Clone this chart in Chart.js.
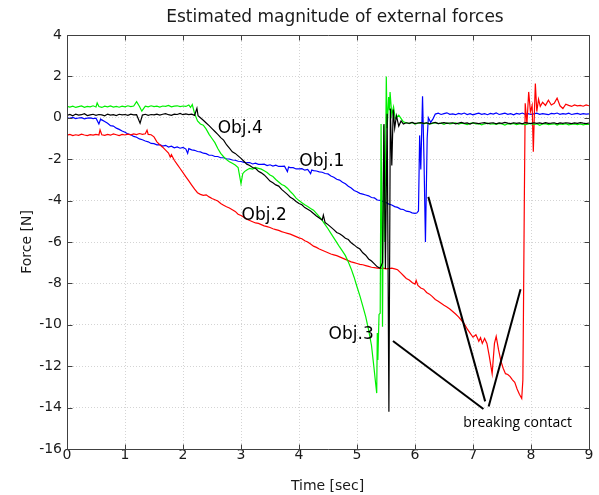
<!DOCTYPE html>
<html><head><meta charset="utf-8">
<script src="https://cdn.jsdelivr.net/npm/chart.js@4/dist/chart.umd.min.js"></script>
<style>html,body{margin:0;padding:0;background:#fff;}#wrap{width:599px;height:495px;}</style>
</head><body><div id="wrap"><canvas id="c" width="599" height="495"></canvas></div>
<script>
// ---- axis ticks ----
const xTicks = [0,1,2,3,4,5,6,7,8,9];
const yTicks = [4,2,0,-2,-4,-6,-8,-10,-12,-14,-16];

// ---- Obj.1 (blue) ----
const obj1T = [
0,0.05,0.1,0.15,0.2,0.25,0.3,0.35,0.4,0.45,
0.5,0.55,0.58,0.6,0.65,0.7,0.75,0.8,0.85,0.9,
0.95,1,1.05,1.1,1.15,1.2,1.25,1.3,1.35,1.4,
1.45,1.5,1.55,1.6,1.65,1.7,1.75,1.8,1.85,1.9,
1.95,2,2.05,2.08,2.1,2.15,2.2,2.25,2.3,2.35,
2.4,2.45,2.5,2.55,2.6,2.65,2.7,2.75,2.8,2.85,
2.9,2.95,3,3.05,3.1,3.15,3.2,3.25,3.3,3.35,
3.4,3.45,3.5,3.55,3.6,3.65,3.7,3.75,3.8,3.82,
3.85,3.9,3.95,4,4.05,4.1,4.15,4.2,4.22,4.25,
4.3,4.35,4.4,4.45,4.5,4.55,4.6,4.65,4.7,4.75,
4.8,4.85,4.9,4.95,5,5.05,5.1,5.15,5.2,5.25,
5.3,5.35,5.4,5.45,5.5,5.55,5.6,5.65,5.7,5.75,
5.8,5.85,5.9,5.95,6,6.03,6.06,6.08,6.1,6.13,
6.155,6.18,6.21,6.23,6.27,6.31,6.35,6.4,6.45,6.5,
6.55,6.6,6.65,6.7,6.75,6.8,6.85,6.9,6.95,7,
7.05,7.1,7.15,7.2,7.25,7.3,7.35,7.4,7.45,7.5,
7.55,7.6,7.65,7.7,7.75,7.8,7.85,7.9,7.95,8,
8.05,8.1,8.15,8.2,8.25,8.3,8.35,8.4,8.45,8.5,
8.55,8.6,8.65,8.7,8.75,8.8,8.85,8.9,8.95,9];
const obj1F = [
0.00,-0.03,0.02,-0.04,-0.01,0.01,-0.05,-0.02,0.00,-0.04,
-0.02,-0.30,-0.06,-0.10,-0.18,-0.26,-0.38,-0.40,-0.50,-0.56,
-0.64,-0.70,-0.78,-0.82,-0.90,-0.94,-1.02,-1.06,-1.12,-1.16,
-1.24,-1.25,-1.31,-1.30,-1.37,-1.33,-1.41,-1.37,-1.45,-1.41,
-1.47,-1.43,-1.51,-1.72,-1.49,-1.55,-1.57,-1.63,-1.65,-1.71,
-1.73,-1.81,-1.81,-1.87,-1.87,-1.93,-1.93,-1.98,-1.99,-2.04,
-2.05,-2.10,-2.11,-2.15,-2.17,-2.16,-2.23,-2.19,-2.25,-2.25,
-2.24,-2.31,-2.27,-2.33,-2.29,-2.35,-2.35,-2.34,-2.60,-2.38,
-2.41,-2.41,-2.47,-2.47,-2.46,-2.53,-2.49,-2.70,-2.52,-2.55,
-2.57,-2.61,-2.63,-2.69,-2.71,-2.81,-2.87,-2.97,-3.01,-3.11,
-3.19,-3.31,-3.39,-3.51,-3.57,-3.65,-3.69,-3.73,-3.77,-3.85,
-3.87,-3.97,-3.99,-4.05,-4.09,-4.17,-4.21,-4.29,-4.33,-4.41,
-4.43,-4.51,-4.53,-4.59,-4.62,-4.60,-4.50,-0.85,-2.50,1.04,
-2.00,-6.00,-1.00,0.00,-0.22,-0.05,0.18,0.22,0.16,0.20,
0.24,0.17,0.19,0.15,0.21,0.18,0.23,0.16,0.20,0.14,
0.19,0.22,0.17,0.20,0.15,0.21,0.18,0.24,0.16,0.19,
0.22,0.17,0.20,0.14,0.21,0.18,0.23,0.17,0.20,0.16,
0.19,0.22,0.17,0.20,0.18,0.15,0.21,0.19,0.23,0.17,
0.20,0.18,0.22,0.16,0.19,0.21,0.17,0.20,0.18,0.19];

// ---- Obj.2 (red) ----
const obj2T = [
0,0.05,0.1,0.15,0.2,0.25,0.3,0.35,0.4,0.45,
0.5,0.55,0.57,0.6,0.65,0.7,0.75,0.8,0.85,0.9,
0.95,1,1.05,1.1,1.15,1.2,1.25,1.3,1.35,1.38,
1.4,1.45,1.5,1.55,1.6,1.65,1.7,1.75,1.78,1.8,
1.85,1.9,1.95,2,2.05,2.1,2.15,2.2,2.25,2.3,
2.35,2.4,2.45,2.5,2.55,2.6,2.65,2.7,2.75,2.8,
2.85,2.9,2.95,3,3.05,3.1,3.15,3.2,3.25,3.3,
3.35,3.4,3.45,3.5,3.55,3.6,3.65,3.7,3.75,3.8,
3.85,3.9,3.95,4,4.05,4.1,4.15,4.2,4.25,4.3,
4.35,4.4,4.45,4.5,4.55,4.6,4.65,4.7,4.75,4.8,
4.85,4.9,4.95,5,5.05,5.1,5.15,5.2,5.25,5.3,
5.35,5.4,5.45,5.5,5.55,5.6,5.65,5.7,5.75,5.8,
5.85,5.9,5.95,6,6.02,6.05,6.1,6.15,6.2,6.25,
6.3,6.35,6.4,6.45,6.5,6.55,6.6,6.65,6.7,6.75,
6.8,6.85,6.9,6.95,7,7.05,7.08,7.1,7.13,7.16,
7.2,7.24,7.28,7.33,7.37,7.4,7.44,7.48,7.52,7.56,
7.6,7.64,7.68,7.72,7.76,7.8,7.84,7.86,7.87,7.885,
7.9,7.93,7.96,7.99,8.02,8.04,8.06,8.075,8.1,8.13,
8.16,8.2,8.25,8.3,8.35,8.4,8.45,8.5,8.55,8.6,
8.65,8.7,8.75,8.8,8.85,8.9,8.95,9];
const obj2F = [
-0.84,-0.80,-0.86,-0.82,-0.85,-0.79,-0.83,-0.86,-0.81,-0.84,
-0.80,-0.83,-0.58,-0.82,-0.85,-0.80,-0.84,-0.78,-0.82,-0.86,
-0.80,-0.83,-0.79,-0.82,-0.78,-0.81,-0.76,-0.80,-0.77,-0.60,
-0.80,-0.82,-0.92,-1.16,-1.30,-1.42,-1.56,-1.70,-1.90,-1.78,
-2.05,-2.25,-2.45,-2.65,-2.85,-3.05,-3.25,-3.45,-3.62,-3.70,
-3.75,-3.72,-3.82,-3.90,-3.96,-4.02,-4.14,-4.22,-4.30,-4.36,
-4.44,-4.52,-4.66,-4.72,-4.80,-4.90,-4.96,-5.02,-5.08,-5.10,
-5.16,-5.22,-5.26,-5.30,-5.36,-5.40,-5.44,-5.50,-5.54,-5.58,
-5.62,-5.68,-5.74,-5.80,-5.84,-5.94,-6.00,-6.10,-6.20,-6.26,
-6.34,-6.40,-6.46,-6.52,-6.58,-6.62,-6.66,-6.72,-6.78,-6.84,
-6.90,-6.96,-7.00,-7.04,-7.08,-7.10,-7.14,-7.18,-7.22,-7.24,
-7.26,-7.28,-7.26,-7.30,-7.28,-7.26,-7.30,-7.34,-7.48,-7.62,
-7.76,-7.84,-7.96,-8.04,-7.86,-8.10,-8.22,-8.28,-8.44,-8.52,
-8.64,-8.78,-8.86,-8.96,-9.06,-9.14,-9.24,-9.36,-9.48,-9.62,
-9.78,-9.95,-10.20,-10.40,-10.60,-10.48,-10.66,-10.80,-10.62,-10.90,
-10.66,-10.90,-11.50,-12.36,-10.90,-10.56,-11.20,-11.74,-12.10,-12.36,
-12.40,-12.50,-12.66,-12.78,-13.10,-13.36,-13.56,-12.66,-9.40,-4.00,
0.70,-0.30,1.25,0.30,0.60,-1.64,0.40,1.65,0.30,0.90,
0.55,0.75,0.60,0.85,0.62,0.70,0.95,0.58,0.45,0.66,
0.60,0.55,0.62,0.58,0.60,0.56,0.62,0.58];

// ---- Obj.3 (green) ----
const obj3T = [
0,0.05,0.1,0.15,0.2,0.25,0.3,0.35,0.4,0.45,
0.5,0.52,0.55,0.6,0.65,0.7,0.75,0.8,0.85,0.9,
0.95,1,1.05,1.1,1.15,1.2,1.25,1.29,1.35,1.4,
1.45,1.5,1.55,1.6,1.65,1.7,1.75,1.8,1.85,1.9,
1.95,2,2.05,2.1,2.13,2.16,2.2,2.25,2.3,2.35,
2.4,2.45,2.5,2.55,2.6,2.65,2.7,2.75,2.8,2.85,
2.9,2.95,3,3.03,3.06,3.1,3.15,3.2,3.25,3.3,
3.35,3.4,3.45,3.5,3.55,3.6,3.65,3.7,3.75,3.8,
3.85,3.9,3.95,4,4.05,4.1,4.15,4.2,4.25,4.3,
4.35,4.4,4.45,4.5,4.55,4.6,4.65,4.7,4.75,4.8,
4.85,4.9,4.95,5,5.05,5.1,5.15,5.2,5.25,5.29,
5.32,5.34,5.35,5.36,5.38,5.4,5.415,5.44,5.46,5.48,
5.505,5.52,5.545,5.56,5.57,5.6,5.63,5.66,5.72,5.8,
5.85,5.9,5.95,6,6.05,6.1,6.15,6.2,6.25,6.3,
6.35,6.4,6.45,6.5,6.55,6.6,6.65,6.7,6.75,6.8,
6.85,6.9,6.95,7,7.05,7.1,7.15,7.2,7.25,7.3,
7.35,7.4,7.45,7.5,7.55,7.6,7.65,7.7,7.75,7.8,
7.85,7.9,7.95,8,8.05,8.1,8.15,8.2,8.25,8.3,
8.35,8.4,8.45,8.5,8.55,8.6,8.65,8.7,8.75,8.8,
8.85,8.9,8.95,9];
const obj3F = [
0.55,0.52,0.56,0.50,0.54,0.57,0.51,0.55,0.53,0.58,
0.52,0.72,0.54,0.50,0.56,0.53,0.57,0.52,0.55,0.51,
0.56,0.53,0.58,0.54,0.57,0.78,0.55,0.32,0.56,0.53,
0.58,0.54,0.56,0.52,0.57,0.55,0.60,0.53,0.56,0.58,
0.54,0.57,0.55,0.62,0.50,0.64,0.20,-0.15,-0.30,-0.36,
-0.55,-0.80,-1.00,-1.20,-1.48,-1.72,-1.88,-2.02,-2.12,-2.20,
-2.28,-2.40,-3.18,-2.70,-2.60,-2.52,-2.44,-2.48,-2.40,-2.44,
-2.48,-2.56,-2.64,-2.76,-2.84,-2.98,-3.10,-3.22,-3.28,-3.40,
-3.56,-3.70,-3.88,-4.00,-4.10,-4.20,-4.28,-4.38,-4.46,-4.62,
-4.78,-4.96,-5.16,-5.36,-5.58,-5.80,-6.02,-6.24,-6.44,-6.66,
-6.96,-7.30,-7.70,-8.16,-8.60,-9.10,-9.60,-10.25,-11.00,-12.00,
-12.80,-13.30,-10.40,-11.70,-9.50,-9.44,-0.30,-10.10,-0.36,-6.00,
2.00,-0.50,1.00,0.37,1.25,0.13,0.53,-0.03,0.13,-0.20,
-0.24,-0.28,-0.22,-0.30,-0.26,-0.24,-0.29,-0.25,-0.31,-0.27,
-0.23,-0.28,-0.26,-0.32,-0.25,-0.29,-0.27,-0.24,-0.30,-0.26,
-0.28,-0.33,-0.27,-0.25,-0.30,-0.28,-0.34,-0.29,-0.26,-0.31,
-0.28,-0.32,-0.27,-0.30,-0.35,-0.29,-0.31,-0.27,-0.33,-0.30,
-0.28,-0.34,-0.30,-0.27,-0.32,-0.29,-0.36,-0.30,-0.28,-0.33,
-0.31,-0.29,-0.35,-0.30,-0.32,-0.28,-0.34,-0.31,-0.29,-0.33,
-0.30,-0.34,-0.31,-0.32];

// ---- Obj.4 (black) ----
const obj4T = [
0,0.05,0.1,0.15,0.2,0.25,0.3,0.35,0.4,0.45,
0.5,0.55,0.6,0.65,0.7,0.75,0.8,0.85,0.9,0.95,
1,1.05,1.1,1.15,1.2,1.26,1.3,1.35,1.4,1.45,
1.5,1.55,1.6,1.65,1.7,1.75,1.8,1.85,1.9,1.95,
2,2.05,2.1,2.15,2.2,2.24,2.26,2.3,2.35,2.4,
2.45,2.5,2.55,2.6,2.65,2.7,2.75,2.8,2.85,2.9,
2.95,3,3.05,3.1,3.15,3.2,3.25,3.3,3.35,3.4,
3.45,3.5,3.55,3.6,3.65,3.7,3.75,3.8,3.85,3.9,
3.95,4,4.05,4.1,4.15,4.2,4.25,4.3,4.35,4.4,
4.42,4.45,4.5,4.55,4.6,4.65,4.7,4.75,4.8,4.85,
4.9,4.95,5,5.05,5.1,5.15,5.2,5.25,5.3,5.35,
5.4,5.44,5.465,5.49,5.52,5.55,5.575,5.6,5.625,5.65,
5.68,5.72,5.76,5.8,5.85,5.9,5.95,6,6.05,6.1,
6.15,6.2,6.25,6.3,6.35,6.4,6.45,6.5,6.55,6.6,
6.65,6.7,6.75,6.8,6.85,6.9,6.95,7,7.05,7.1,
7.15,7.2,7.25,7.3,7.35,7.4,7.45,7.5,7.55,7.6,
7.65,7.7,7.75,7.8,7.85,7.9,7.95,8,8.05,8.1,
8.15,8.2,8.25,8.3,8.35,8.4,8.45,8.5,8.55,8.6,
8.65,8.7,8.75,8.8,8.85,8.9,8.95,9];
const obj4F = [
0.12,0.16,0.10,0.18,0.13,0.15,0.20,0.11,0.14,0.17,
0.12,0.16,0.14,0.10,0.18,0.13,0.15,0.11,0.17,0.14,
0.16,0.12,0.18,0.14,0.15,-0.26,0.13,0.17,0.12,0.16,
0.14,0.18,0.13,0.17,0.20,0.15,0.12,0.18,0.16,0.21,
0.15,0.19,0.15,0.18,0.12,0.46,0.10,0.00,-0.12,-0.25,
-0.38,-0.52,-0.66,-0.80,-0.96,-1.08,-1.30,-1.46,-1.64,-1.72,
-1.84,-1.96,-2.10,-2.24,-2.30,-2.40,-2.44,-2.58,-2.66,-2.76,
-2.90,-3.06,-3.14,-3.24,-3.30,-3.46,-3.58,-3.70,-3.84,-3.92,
-4.04,-4.14,-4.20,-4.34,-4.42,-4.50,-4.62,-4.74,-4.84,-4.94,
-4.70,-5.06,-5.16,-5.28,-5.40,-5.54,-5.60,-5.70,-5.82,-5.88,
-6.04,-6.14,-6.26,-6.34,-6.52,-6.64,-6.82,-6.92,-7.06,-7.20,
-7.27,-7.00,-0.30,-7.30,0.20,-14.20,0.45,-2.30,0.40,-0.50,
0.10,-0.40,-0.15,-0.30,-0.24,-0.27,-0.22,-0.28,-0.25,-0.23,
-0.27,-0.24,-0.29,-0.25,-0.22,-0.28,-0.26,-0.23,-0.27,-0.25,
-0.24,-0.29,-0.26,-0.22,-0.27,-0.25,-0.30,-0.24,-0.26,-0.28,
-0.25,-0.23,-0.28,-0.26,-0.24,-0.29,-0.25,-0.27,-0.22,-0.26,
-0.28,-0.24,-0.27,-0.25,-0.29,-0.23,-0.26,-0.28,-0.24,-0.27,
-0.25,-0.28,-0.23,-0.27,-0.26,-0.24,-0.29,-0.25,-0.27,-0.24,
-0.26,-0.28,-0.25,-0.27,-0.23,-0.26,-0.28,-0.25];

// ---- "breaking contact" pointer lines (data coords) ----
const ptr1T = [5.62, 7.18], ptr1F = [-10.78, -14.07];
const ptr2T = [6.23, 7.21], ptr2F = [-3.82, -13.7];
const ptr3T = [7.27, 7.82], ptr3F = [-13.95, -8.28];

// ---- text labels ----
const labelText = ['Obj.4', 'Obj.1', 'Obj.2', 'Obj.3'];
const labelT = [2.597, 4.005, 3.01, 4.51];
const labelF = [-0.73, -2.335, -4.94, -10.68];
const noteText = 'breaking contact';
const noteT = 6.83, noteF = -14.95;

const FONT = '"DejaVu Sans", sans-serif';
function pts(t, f) { return t.map((x, i) => ({x: x, y: f[i]})); }

const deco = {
  id: 'deco',
  afterDraw(chart) {
    const ctx = chart.ctx, a = chart.chartArea, xs = chart.scales.x, ys = chart.scales.y;
    ctx.save();
    const L = Math.round(a.left) + 0.5, R = Math.round(a.right) + 0.5, T = Math.round(a.top) + 0.5, B = Math.round(a.bottom) + 0.5;
    ctx.strokeStyle = '#404040'; ctx.lineWidth = 1;
    ctx.beginPath();
    ctx.rect(L, T, R - L, B - T);
    xTicks.forEach(v => { const p = Math.round(xs.getPixelForValue(v)) + 0.5; ctx.moveTo(p, B); ctx.lineTo(p, B - 5); ctx.moveTo(p, T); ctx.lineTo(p, T + 5); });
    yTicks.forEach(v => { const p = Math.round(ys.getPixelForValue(v)) + 0.5; ctx.moveTo(L, p); ctx.lineTo(L + 5, p); ctx.moveTo(R, p); ctx.lineTo(R - 5, p); });
    ctx.stroke();

    ctx.fillStyle = '#1a1a1a';
    ctx.font = '17px ' + FONT; ctx.textAlign = 'center'; ctx.textBaseline = 'alphabetic';
    ctx.fillText('Estimated magnitude of external forces', 335, 21.5);
    ctx.font = '14px ' + FONT;
    ctx.fillText('Time [sec]', 327.5, 490);
    ctx.save(); ctx.translate(31, 242); ctx.rotate(-Math.PI / 2); ctx.fillText('Force [N]', 0, 0); ctx.restore();

    ctx.fillStyle = '#000';
    ctx.font = '17px ' + FONT; ctx.textAlign = 'left';
    labelText.forEach((s, i) => ctx.fillText(s, xs.getPixelForValue(labelT[i]), ys.getPixelForValue(labelF[i])));
    ctx.font = '14px "Open Sans", sans-serif';
    ctx.fillText(noteText, xs.getPixelForValue(noteT), ys.getPixelForValue(noteF));
    ctx.restore();
  }
};

const lineDs = (label, t, f, color, w) => ({label, data: pts(t, f), borderColor: color, backgroundColor: color, borderWidth: w, pointRadius: 0, tension: 0, fill: false});

new Chart(document.getElementById('c'), {
  type: 'line',
  data: {
    datasets: [
      lineDs('ptr1', ptr1T, ptr1F, '#000000', 2),
      lineDs('ptr2', ptr2T, ptr2F, '#000000', 2),
      lineDs('ptr3', ptr3T, ptr3F, '#000000', 2),
      lineDs('Obj.4', obj4T, obj4F, '#000000', 1.2),
      lineDs('Obj.3', obj3T, obj3F, '#00f000', 1.2),
      lineDs('Obj.2', obj2T, obj2F, '#ff0000', 1.2),
      lineDs('Obj.1', obj1T, obj1F, '#0000ff', 1.2)
    ]
  },
  options: {
    responsive: false, animation: false, devicePixelRatio: 1,
    layout: {padding: {top: 35, right: 10, left: 0, bottom: 0}},
    plugins: {legend: {display: false}, tooltip: {enabled: false}, title: {display: false}},
    scales: {
      x: {
        type: 'linear', min: 0, max: 9,
        afterBuildTicks: s => { s.ticks = xTicks.map(v => ({value: v})); },
        ticks: {padding: -2, font: {family: FONT, size: 14}, color: '#1a1a1a', maxRotation: 0, autoSkip: false},
        grid: {color: '#d4d4d4', drawTicks: false, lineWidth: 1},
        border: {display: false, dash: [1, 2]},
        afterFit: s => { s.height = 46; s.paddingLeft = 0; s.paddingRight = 0; }
      },
      y: {
        type: 'linear', min: -16, max: 4,
        afterBuildTicks: s => { s.ticks = yTicks.map(v => ({value: v})); },
        ticks: {padding: 5, font: {family: FONT, size: 14}, color: '#1a1a1a', autoSkip: false},
        grid: {color: '#d4d4d4', drawTicks: false, lineWidth: 1},
        border: {display: false, dash: [1, 2]},
        afterFit: s => { s.width = 67; s.paddingTop = 0; s.paddingBottom = 0; }
      }
    }
  },
  plugins: [deco]
});
</script>
</body></html>
